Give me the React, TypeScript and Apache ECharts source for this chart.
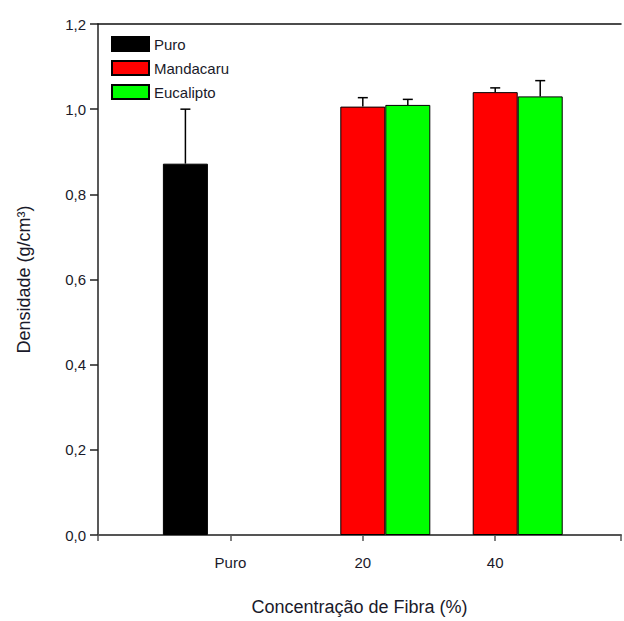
import React, { useEffect, useRef } from "react";
import * as echarts from "echarts";

// Data
const categories = ["Puro", "20", "40"];
const categoryX = [0, 20, 40];
const puro: (number | null)[] = [0.872, null, null];
const puroErr: (number | null)[] = [0.128, null, null];
const mandacaru: (number | null)[] = [null, 1.006, 1.04];
const mandacaruErr: (number | null)[] = [null, 0.021, 0.01];
const eucalipto: (number | null)[] = [null, 1.01, 1.03];
const eucaliptoErr: (number | null)[] = [null, 0.013, 0.037];
const yTicks = [0, 0.2, 0.4, 0.6, 0.8, 1.0, 1.2];

const BAR_W = 45;
const seriesDefs = [
  { name: "Puro", values: puro, errs: puroErr, color: "#000000", offset: -BAR_W },
  { name: "Mandacaru", values: mandacaru, errs: mandacaruErr, color: "#ff0000", offset: 0 },
  { name: "Eucalipto", values: eucalipto, errs: eucaliptoErr, color: "#00ff00", offset: BAR_W },
];

export default function App() {
  const ref = useRef<HTMLDivElement>(null);
  useEffect(() => {
    if (!ref.current) return;
    const chart = echarts.init(ref.current, null, { renderer: "svg" });
    const font = "'Liberation Sans', Arial, sans-serif";
    const series: any[] = [];
    seriesDefs.forEach((s) => {
      series.push({
        name: s.name,
        type: "bar",
        barWidth: BAR_W,
        barGap: "0%",
        itemStyle: { color: s.color, borderColor: "#000", borderWidth: 1 },
        data: s.values
          .map((v, i) => (v == null ? null : [categoryX[i], v]))
          .filter((d) => d != null),
        z: 2,
      });
    });
    seriesDefs.forEach((s) => {
      const off = s.offset;
      series.push({
        type: "custom",
        name: s.name + " err",
        z: 5,
        encode: { x: 0, y: 1 },
        data: s.values
          .map((v, i) => (v == null ? null : [categoryX[i], v, s.errs[i]]))
          .filter((d) => d != null),
        renderItem: (params: any, api: any) => {
          const x = api.value(0);
          const y = api.value(1);
          const e = api.value(2);
          const base = api.coord([x, y]);
          const top = api.coord([x, y + e]);
          const cx = base[0] + off;
          const st = { stroke: "#000", lineWidth: 1.5 };
          return {
            type: "group",
            children: [
              { type: "line", shape: { x1: cx, y1: base[1], x2: cx, y2: top[1] }, style: st },
              { type: "line", shape: { x1: cx - 5, y1: top[1], x2: cx + 5, y2: top[1] }, style: st },
            ],
          };
        },
      });
    });

    chart.setOption({
      animation: false,
      backgroundColor: "#ffffff",
      textStyle: { fontFamily: font },
      grid: { left: 98, right: 0, top: 24, bottom: 81, containLabel: false },
      legend: {
        data: seriesDefs.map((s) => s.name),
        orient: "vertical",
        left: 111,
        top: 36,
        padding: 0,
        itemWidth: 37,
        itemHeight: 14,
        itemGap: 8,
        icon: "rect",
        textStyle: { fontSize: 15, color: "#1a1a2a", fontFamily: font, lineHeight: 16 },
      },
      xAxis: [
        {
          type: "value",
          min: -20,
          max: 59,
          interval: 20,
          splitLine: { show: false },
          axisLine: { show: true, onZero: false, lineStyle: { color: "#555", width: 2 } },
          axisTick: { show: true, length: 6, lineStyle: { color: "#555", width: 1.5 } },
          axisLabel: {
            margin: 20,
            fontSize: 15,
            color: "#1a1a2a",
            fontFamily: font,
            formatter: (v: number) => {
              const i = categoryX.indexOf(v);
              return i >= 0 ? categories[i] : "";
            },
          },
          name: "Concentração de Fibra (%)",
          nameLocation: "middle",
          nameGap: 63,
          nameTextStyle: { fontSize: 18, color: "#1a1a2a", fontFamily: font },
        },
        {
          type: "value",
          position: "top",
          min: -20,
          max: 59,
          axisLine: { show: true, onZero: false, lineStyle: { color: "#111", width: 1.5 } },
          axisTick: { show: false },
          axisLabel: { show: false },
          splitLine: { show: false },
        },
      ],
      yAxis: {
        type: "value",
        min: 0,
        max: 1.2,
        interval: 0.2,
        splitLine: { show: false },
        axisLine: { show: true, onZero: false, lineStyle: { color: "#222", width: 1.5 } },
        axisTick: { show: true, length: 8, lineStyle: { color: "#222", width: 1.5 } },
        axisLabel: {
          margin: 12,
          fontSize: 15,
          color: "#1a1a2a",
          fontFamily: font,
          formatter: (v: number) => {
            const t = yTicks.find((k) => Math.abs(k - v) < 1e-6);
            return t == null ? "" : t.toFixed(1).replace(".", ",");
          },
        },
        name: "Densidade (g/cm³)",
        nameLocation: "middle",
        nameGap: 65,
        nameRotate: 90,
        nameTextStyle: { fontSize: 18, color: "#1a1a2a", fontFamily: font },
      },
      series,
    });
    return () => chart.dispose();
  }, []);
  return (
    <div
      ref={ref}
      style={{ position: "fixed", left: 0, top: 0, width: 624, height: 621 }}
    />
  );
}
